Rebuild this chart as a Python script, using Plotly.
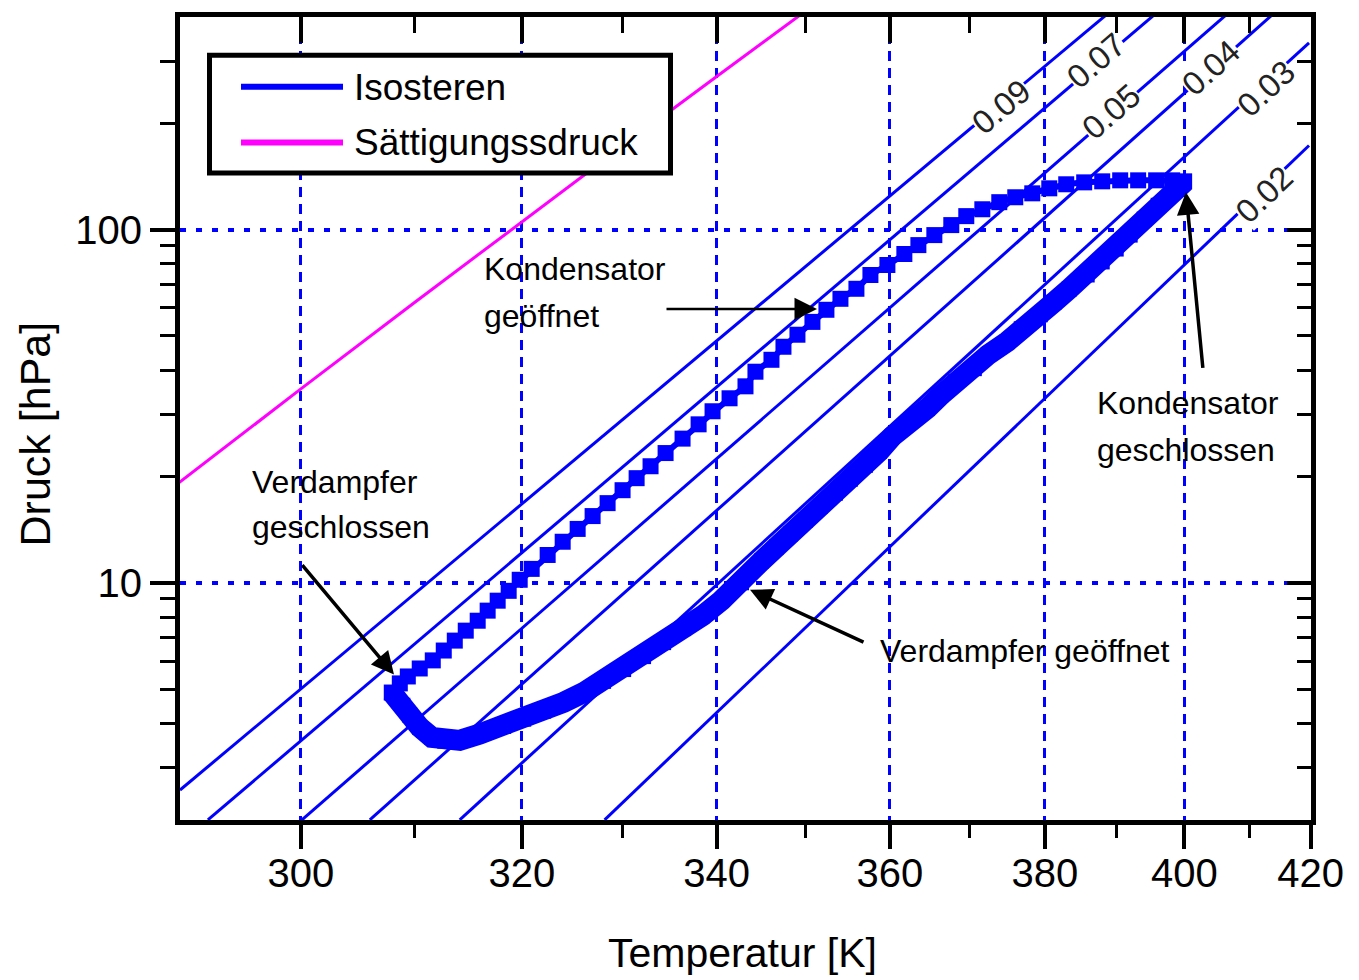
import math
import plotly.graph_objects as go

# ---------------- data ----------------
tick_T = [300, 320, 340, 360, 380, 400, 420]
minor_T = [310, 330, 350, 370, 390, 410]
p_ticks = [10, 100]
p_minor = [3, 4, 5, 6, 7, 8, 9, 20, 30, 40, 50, 60, 70, 80, 90, 200, 300]

# saturation pressure (magenta)
sat_T = [290.0, 300.0, 310.0, 320.0, 330.0, 340.0, 350.0]
sat_p = [19.2, 35.4, 62.3, 105.4, 171.9, 271.3, 416.3]

# isosteres: labels and two read points each (straight in this diagram)
iso_label = ["0.09", "0.07", "0.05", "0.04", "0.03", "0.02"]
iso_T = [[290.08, 388.53], [292.31, 395.48], [300.09, 406.38],
         [305.97, 413.67], [314.12, 419.72], [328.21, 419.72]]
iso_p = [[2.590, 405.5], [2.132, 405.5], [2.132, 405.5],
         [2.132, 405.5], [2.132, 338.0], [2.132, 173.1]]

# measured cycle - upper branch (from "Verdampfer geschlossen" to 400 K)
up_T = [307.92, 308.64, 309.36, 310.44, 311.63, 312.64, 313.66, 314.68, 315.80, 316.74,
        317.69, 318.74, 319.80, 320.96, 322.52, 324.00, 325.49, 326.99, 328.51, 330.04,
        331.49, 332.94, 334.52, 336.32, 338.04, 339.55, 341.41, 343.17, 344.28, 346.08,
        347.44, 349.04, 350.77, 352.40, 354.05, 355.95, 357.63, 359.69, 361.77, 363.51,
        365.51, 367.66, 369.58, 371.66, 373.88, 376.00, 378.28, 380.59, 382.92, 385.42,
        387.96, 390.53, 393.13, 395.77, 398.15, 399.95]
up_p = [4.89, 5.19, 5.43, 5.72, 6.03, 6.43, 6.86, 7.32, 7.81, 8.34,
        8.90, 9.49, 10.20, 10.95, 11.99, 13.07, 14.21, 15.45, 16.81, 18.29,
        19.78, 21.38, 23.3, 25.6, 28.1, 30.6, 33.3, 36.0, 39.6, 42.8,
        46.6, 50.4, 54.8, 59.3, 63.7, 68.0, 74.4, 79.4, 85.3, 90.4,
        96.5, 103.0, 109.2, 114.2, 119.6, 123.5, 126.7, 130.9, 134.4, 136.1,
        137.0, 137.9, 137.9, 137.9, 137.9, 137.0]

# measured cycle - lower branch (from 400 K back to the start)
dn_T = [399.95, 398.90, 396.07, 394.01, 391.97, 389.96, 387.96, 385.84, 383.33, 381.27,
        379.36, 376.80, 374.94, 372.44, 370.62, 368.17, 366.39, 364.63, 362.27, 360.30,
        358.72, 357.03, 355.23, 353.46, 351.70, 349.96, 348.24, 346.65, 344.96, 342.73,
        340.53, 338.47, 336.43, 334.31, 332.21, 330.15, 328.10, 326.09, 324.10, 322.13,
        320.19, 318.26, 315.99, 314.12, 312.73, 311.54, 310.44, 309.54, 308.91, 308.19,
        307.92]
dn_p = [136.1, 130.1, 117.2, 107.1, 96.5, 88.1, 81.0, 74.4, 67.9, 62.4,
        57.4, 52.4, 48.2, 44.3, 40.4, 37.1, 34.1, 31.2, 28.6, 25.98,
        23.57, 21.52, 19.65, 17.94, 16.49, 15.05, 13.75, 12.63, 11.53, 10.0,
        8.92, 8.07, 7.42, 6.77, 6.18, 5.68, 5.26, 4.89, 4.59, 4.33,
        4.11, 3.92, 3.73, 3.58, 3.56, 3.65, 3.90, 4.22, 4.50, 4.80,
        4.89]

# ---------------- helpers ----------------
def X(T):
    """reciprocal temperature axis (Clausius-Clapeyron diagram)"""
    return -1000.0 / T

W, H = 1359, 980
ML, MR, MT, MB = 180, 48, 14, 160
PW, PH = W - ML - MR, H - MT - MB

def fx(px):
    return (px - ML) / PW

def fy(py):
    return (H - MB - py) / PH

BLUE = "#0000FF"
MAG = "#FF00FF"
FONT = "Liberation Sans, Arial, sans-serif"

fig = go.Figure()

for lab, tt, pp in zip(iso_label, iso_T, iso_p):
    fig.add_trace(go.Scatter(x=[X(t) for t in tt], y=pp, mode="lines",
                             line=dict(color=BLUE, width=3), name="Isosteren " + lab,
                             showlegend=False, hoverinfo="skip"))

fig.add_trace(go.Scatter(x=[X(t) for t in sat_T], y=sat_p, mode="lines",
                         line=dict(color=MAG, width=3), name="Sättigungssdruck",
                         showlegend=False))

fig.add_trace(go.Scatter(x=[X(t) for t in up_T], y=up_p, mode="lines+markers",
                         line=dict(color=BLUE, width=6),
                         marker=dict(symbol="square", size=16, color=BLUE, line=dict(width=0)),
                         name="Messung", showlegend=False))
fig.add_trace(go.Scatter(x=[X(t) for t in dn_T], y=dn_p, mode="lines+markers",
                         line=dict(color=BLUE, width=21),
                         marker=dict(symbol="square", size=15, color=BLUE, line=dict(width=0)),
                         name="Messung", showlegend=False))

# empty trace to host the mirrored (top/right) axes with inward ticks
fig.add_trace(go.Scatter(x=[None], y=[None], xaxis="x2", yaxis="y2",
                         showlegend=False, hoverinfo="skip"))

xr = [X(290.08), X(420.05)]
yr = [math.log10(2.13), math.log10(400)]

fig.update_layout(
    width=W, height=H,
    margin=dict(l=ML, r=MR, t=MT, b=MB, pad=0),
    paper_bgcolor="white", plot_bgcolor="white",
    showlegend=False,
    xaxis=dict(range=xr, tickmode="array", tickvals=[X(t) for t in tick_T],
               ticktext=[str(t) for t in tick_T], ticks="outside", ticklen=24, tickwidth=4,
               tickcolor="black", showline=True, linewidth=5, linecolor="black", mirror=True,
               showgrid=True, gridcolor=BLUE, gridwidth=3, griddash="10px,7px",
               zeroline=False, ticklabelstandoff=-10,
               tickfont=dict(family=FONT, size=40, color="black"),
               minor=dict(tickmode="array", tickvals=[X(t) for t in minor_T], ticks="outside",
                          ticklen=13, tickwidth=3, tickcolor="black", showgrid=False)),
    yaxis=dict(type="log", range=yr, tickmode="array", tickvals=p_ticks,
               ticktext=[str(v) for v in p_ticks], ticks="outside", ticklen=25, tickwidth=4,
               tickcolor="black", showline=True, linewidth=5, linecolor="black", mirror=True,
               showgrid=True, gridcolor=BLUE, gridwidth=4, griddash="6px,10px",
               zeroline=False, tickfont=dict(family=FONT, size=40, color="black"),
               minor=dict(tickmode="array", tickvals=p_minor, ticks="outside",
                          ticklen=15, tickwidth=3, tickcolor="black", showgrid=False)),
    xaxis2=dict(overlaying="x", side="top", range=xr, tickmode="array",
                tickvals=[X(t) for t in tick_T], ticks="inside", ticklen=26, tickwidth=4,
                tickcolor="black", showticklabels=False, showgrid=False, showline=False,
                zeroline=False,
                minor=dict(tickmode="array", tickvals=[X(t) for t in minor_T], ticks="inside",
                           ticklen=16, tickwidth=3, tickcolor="black", showgrid=False)),
    yaxis2=dict(overlaying="y", side="right", type="log", range=yr, tickmode="array",
                tickvals=p_ticks, ticks="inside", ticklen=24, tickwidth=4, tickcolor="black",
                showticklabels=False, showgrid=False, showline=False, zeroline=False,
                minor=dict(tickmode="array", tickvals=p_minor, ticks="inside",
                           ticklen=14, tickwidth=3, tickcolor="black", showgrid=False)),
)

ann = []
# isostere labels sitting in gaps of their lines
label_pos = [(374.15, 223.0, -40), (387.11, 300.8, -41), (389.24, 215.9, -41),
             (404.06, 287.3, -42), (412.70, 250.7, -43), (412.38, 125.9, -44)]
for lab, (tl, pl, ang) in zip(iso_label, label_pos):
    ann.append(dict(x=X(tl), y=math.log10(pl), xref="x", yref="y", text=lab,
                    showarrow=False, textangle=ang, bgcolor="white", borderpad=0,
                    font=dict(family=FONT, size=33, color="#222")))

# axis titles
ann.append(dict(x=fx(742), y=fy(953), xref="paper", yref="paper", text="Temperatur [K]",
                showarrow=False, xanchor="center", yanchor="middle",
                font=dict(family=FONT, size=41, color="black")))
ann.append(dict(x=fx(35), y=fy(433), xref="paper", yref="paper", text="Druck [hPa]",
                showarrow=False, xanchor="center", yanchor="middle", textangle=-90,
                font=dict(family=FONT, size=43, color="black")))

# text annotations, one per line
tfont = dict(family=FONT, size=32, color="black")
text_lines = [("Kondensator", 482, 267), ("geöffnet", 482, 314),
              ("Kondensator", 1095, 401), ("geschlossen", 1095, 449),
              ("Verdampfer", 250, 481), ("geschlossen", 250, 526),
              ("Verdampfer geöffnet", 878, 650)]
for txt, px, py in text_lines:
    ann.append(dict(x=fx(px), y=fy(py), xref="paper", yref="paper", text=txt,
                    showarrow=False, xanchor="left", yanchor="middle", font=tfont))

# arrows (tip in paper coords, tail as pixel offset)
arrows = [((817, 307), (665, 307), 2.5), ((1186, 190), (1203, 367), 3.5),
          ((394, 674), (301, 563), 3.5), ((750, 589), (865, 642), 3.5)]
for (tx, ty), (sx, sy), wdt in arrows:
    ann.append(dict(x=fx(tx), y=fy(ty), xref="paper", yref="paper", text="",
                    showarrow=True, axref="pixel", ayref="pixel", ax=sx - tx, ay=sy - ty,
                    arrowhead=2, arrowsize=4.5 / wdt, arrowwidth=wdt, arrowcolor="black",
                    standoff=0))

# legend drawn by hand (long line samples as in the original)
ann.append(dict(x=fx(352), y=fy(85), xref="paper", yref="paper", text="Isosteren",
                showarrow=False, xanchor="left", yanchor="middle",
                font=dict(family=FONT, size=37, color="black")))
ann.append(dict(x=fx(352), y=fy(140), xref="paper", yref="paper", text="Sättigungssdruck",
                showarrow=False, xanchor="left", yanchor="middle",
                font=dict(family=FONT, size=37, color="black")))

shapes = [
    dict(type="rect", xref="paper", yref="paper", x0=fx(209.5), x1=fx(670.5),
         y0=fy(170.5), y1=fy(52.5), line=dict(color="black", width=5),
         fillcolor="white", layer="above"),
    dict(type="line", xref="paper", yref="paper", x0=fx(241), x1=fx(343),
         y0=fy(84), y1=fy(84), line=dict(color=BLUE, width=6), layer="above"),
    dict(type="line", xref="paper", yref="paper", x0=fx(241), x1=fx(343),
         y0=fy(140), y1=fy(140), line=dict(color=MAG, width=6), layer="above"),
]

fig.update_layout(annotations=ann, shapes=shapes)
fig.write_html("out.html")
